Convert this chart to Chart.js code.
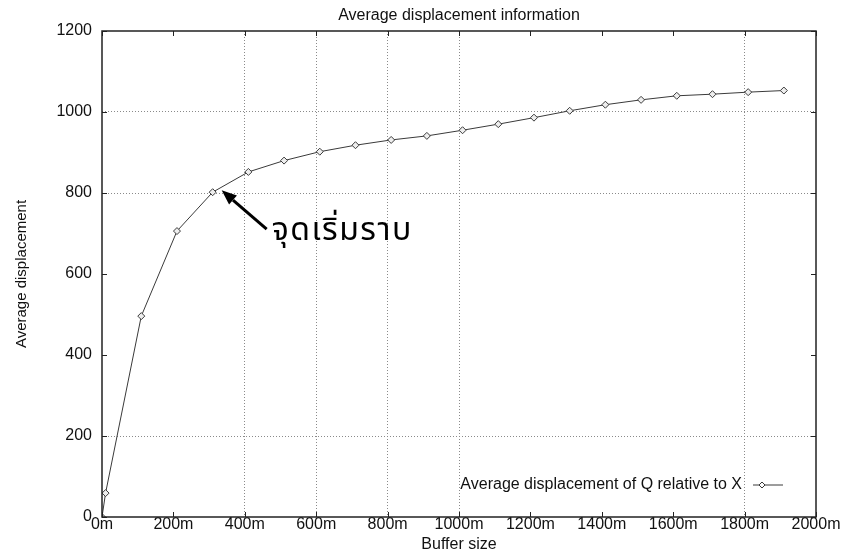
<!DOCTYPE html>
<html>
<head>
<meta charset="utf-8">
<script src="https://cdn.jsdelivr.net/npm/chart.js@4.4.1/dist/chart.umd.min.js"></script>
<style>
  html, body { margin:0; padding:0; background:#fff; }
</style>
</head>
<body>
<canvas id="chart" width="845" height="554"></canvas>
<script>
// ---- data ----
const bufferSizes = [0, 10, 110, 210, 310, 410, 510, 610, 710, 810, 910,
                     1010, 1110, 1210, 1310, 1410, 1510, 1610, 1710, 1810, 1910];
const avgDisplacement = [0, 59, 496, 706, 802, 852, 880, 902, 918, 931, 941,
                         955, 970, 986, 1003, 1018, 1030, 1040, 1044, 1049, 1053];
const xGridValues = [400, 600, 800, 1000, 1800];   // vertical dotted lines that show
const yGridValues = [200, 800, 1000];              // horizontal dotted lines that show
const seriesLabel = 'Average displacement of Q relative to X';
const chartTitle = 'Average displacement information';
const noteText = 'จุดเริ่มราบ';
const notePoint = { x: 310, y: 802 };

const LINE_COLOR = '#3a3a3a';
const GRID_COLOR = '#8a8a8a';
const FONT = '"Liberation Sans", Arial, Helvetica, sans-serif';

// frame, inward ticks, key and the arrow note
const extras = {
  id: 'extras',
  afterDraw(chart){
    const { ctx, chartArea: a, scales: { x, y } } = chart;
    ctx.save();

    // inward ticks on all four sides
    ctx.strokeStyle = '#222';
    ctx.lineWidth = 1;
    const tl = 5;
    x.ticks.forEach(t => {
      const px = Math.round(x.getPixelForValue(t.value)) + 0.5;
      ctx.beginPath();
      ctx.moveTo(px, a.bottom); ctx.lineTo(px, a.bottom - tl);
      ctx.moveTo(px, a.top); ctx.lineTo(px, a.top + tl);
      ctx.stroke();
    });
    y.ticks.forEach(t => {
      const py = Math.round(y.getPixelForValue(t.value)) + 0.5;
      ctx.beginPath();
      ctx.moveTo(a.left, py); ctx.lineTo(a.left + tl, py);
      ctx.moveTo(a.right, py); ctx.lineTo(a.right - tl, py);
      ctx.stroke();
    });

    // frame
    ctx.lineWidth = 1.5;
    ctx.strokeRect(a.left, a.top, a.right - a.left, a.bottom - a.top);

    // key (gnuplot style: text right-aligned, sample to the right)
    const ky = a.bottom - 32;
    const textRight = a.right - 74;
    ctx.font = '16px ' + FONT;
    ctx.fillStyle = '#111';
    ctx.textAlign = 'right';
    ctx.textBaseline = 'middle';
    ctx.fillText(seriesLabel, textRight, ky);
    ctx.strokeStyle = LINE_COLOR;
    ctx.lineWidth = 1;
    ctx.beginPath();
    ctx.moveTo(textRight + 11, ky); ctx.lineTo(textRight + 41, ky);
    ctx.stroke();
    const mx = textRight + 20, r = 3;
    ctx.beginPath();
    ctx.moveTo(mx, ky - r); ctx.lineTo(mx + r, ky); ctx.lineTo(mx, ky + r); ctx.lineTo(mx - r, ky); ctx.closePath();
    ctx.fillStyle = '#fff'; ctx.fill(); ctx.stroke();

    // arrow pointing at the start of the plateau
    const px = x.getPixelForValue(notePoint.x);
    const py = y.getPixelForValue(notePoint.y);
    const tipX = px + 9, tipY = py - 2;
    const tailX = px + 54, tailY = py + 37;
    const ang = Math.atan2(tipY - tailY, tipX - tailX);
    const head = 15, half = 6;
    const baseX = tipX - head * Math.cos(ang), baseY = tipY - head * Math.sin(ang);
    ctx.strokeStyle = '#000';
    ctx.lineWidth = 3;
    ctx.beginPath();
    ctx.moveTo(tailX, tailY); ctx.lineTo(baseX, baseY);
    ctx.stroke();
    ctx.fillStyle = '#000';
    ctx.beginPath();
    ctx.moveTo(tipX, tipY);
    ctx.lineTo(baseX + half * Math.sin(ang), baseY - half * Math.cos(ang));
    ctx.lineTo(baseX - half * Math.sin(ang), baseY + half * Math.cos(ang));
    ctx.closePath();
    ctx.fill();

    ctx.font = '32px "Noto Sans Thai", "Noto Sans", "DejaVu Sans", sans-serif';
    ctx.letterSpacing = '1.5px';
    ctx.textAlign = 'left';
    ctx.textBaseline = 'alphabetic';
    ctx.fillText(noteText, px + 59, py + 48);

    ctx.restore();
  }
};

new Chart(document.getElementById('chart'), {
  type: 'line',
  data: {
    datasets: [{
      label: seriesLabel,
      data: bufferSizes.map((b, i) => ({ x: b, y: avgDisplacement[i] })),
      borderColor: LINE_COLOR,
      borderWidth: 1,
      pointStyle: 'rectRot',
      pointRadius: 3.5,
      pointBorderWidth: 1,
      pointBorderColor: LINE_COLOR,
      pointBackgroundColor: '#eee',
      tension: 0
    }]
  },
  options: {
    responsive: false,
    animation: false,
    layout: { padding: { left: 0, right: 29, top: 0, bottom: 0 } },
    plugins: {
      legend: { display: false },
      tooltip: { enabled: false },
      title: {
        display: true,
        text: chartTitle,
        fullSize: false,
        color: '#111',
        font: { family: FONT, size: 16, weight: 'normal' },
        padding: { top: 6.4, bottom: 5.4 }
      }
    },
    scales: {
      x: {
        type: 'linear',
        min: 0, max: 2000,
        afterFit: s => { s.height = 37; },
        ticks: {
          stepSize: 200,
          padding: -2,
          color: '#111',
          maxRotation: 0,
          font: { family: FONT, size: 16 },
          callback: v => v + 'm'
        },
        grid: {
          drawTicks: false,
          lineWidth: 1,
          color: c => xGridValues.includes(c.tick && c.tick.value) ? GRID_COLOR : 'rgba(0,0,0,0)'
        },
        border: { display: false, dash: [1, 2] },
        title: {
          display: true,
          text: 'Buffer size',
          color: '#111',
          font: { family: FONT, size: 16 },
          padding: { top: 0, bottom: 0 }
        }
      },
      y: {
        min: 0, max: 1200,
        afterFit: s => { s.width = 102; },
        ticks: {
          stepSize: 200,
          padding: 10,
          color: '#111',
          font: { family: FONT, size: 16 },
          callback: v => String(v)
        },
        grid: {
          drawTicks: false,
          lineWidth: 1,
          color: c => yGridValues.includes(c.tick && c.tick.value) ? GRID_COLOR : 'rgba(0,0,0,0)'
        },
        border: { display: false, dash: [1, 2] },
        title: {
          display: true,
          text: 'Average displacement',
          color: '#111',
          font: { family: FONT, size: 15 },
          padding: { top: 13, bottom: 0 }
        }
      }
    }
  },
  plugins: [extras]
});
</script>
</body>
</html>
